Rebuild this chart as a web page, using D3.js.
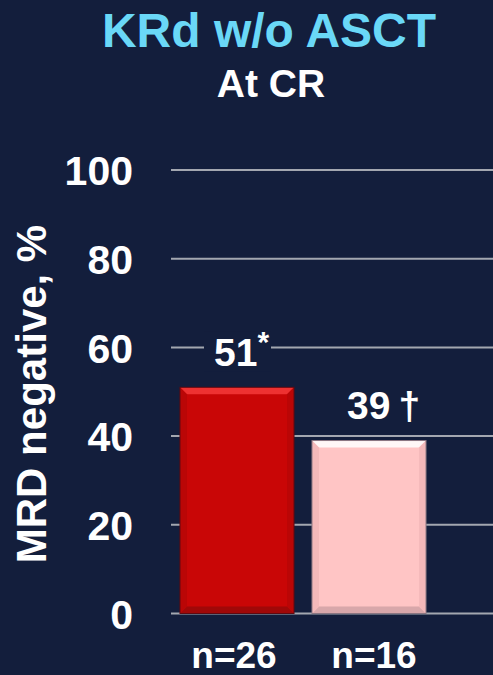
<!DOCTYPE html>
<html>
<head>
<meta charset="utf-8">
<script src="https://cdn.jsdelivr.net/npm/d3@7"></script>
<style>
  html, body { margin: 0; padding: 0; background: #131e3c; }
  svg { display: block; }
  text { font-family: "Liberation Sans", Arial, sans-serif; font-weight: bold; }
</style>
</head>
<body>
<svg id="chart" width="493" height="675"></svg>
<script>
// Chart data
const categories = ["n=26", "n=16"];
const values = [51, 39];
const valueMarks = ["*", "†"];
const yTicks = [0, 20, 40, 60, 80, 100];
const title = "KRd w/o ASCT";
const subtitle = "At CR";
const yLabel = "MRD negative, %";

const W = 493, H = 675;
const svg = d3.select("#chart");

svg.append("rect").attr("width", W).attr("height", H).attr("fill", "#131e3c");

const y = d3.scaleLinear().domain([0, 100]).range([613.5, 170]);
const x = d3.scaleBand().domain(categories).range([171, 435])
  .paddingInner(0.136).paddingOuter(0.068);

// Titles
svg.append("text").attr("x", 269).attr("y", 47).attr("text-anchor", "middle")
  .attr("font-size", 48).attr("fill", "#6ad8f7").text(title);
svg.append("text").attr("x", 271).attr("y", 97).attr("text-anchor", "middle")
  .attr("font-size", 39).attr("fill", "#ffffff").text(subtitle);

// Gridlines
svg.append("g").selectAll("line").data(yTicks).join("line")
  .attr("x1", 171).attr("x2", W)
  .attr("y1", d => y(d)).attr("y2", d => y(d))
  .attr("stroke", "#a3a7b0").attr("stroke-width", 2);

// Y axis tick labels
const yAxis = d3.axisLeft(y).tickValues(yTicks).tickSize(0).tickPadding(0);
const gy = svg.append("g").attr("transform", "translate(133,0)").call(yAxis);
gy.select(".domain").remove();
gy.selectAll("text").attr("font-size", 41).attr("fill", "#ffffff")
  .attr("font-family", "\"Liberation Sans\", Arial, sans-serif").attr("font-weight", "bold")
  .attr("dy", "0.36em");

// Y axis title
svg.append("text").attr("transform", "translate(46,394) rotate(-90)")
  .attr("text-anchor", "middle").attr("font-size", 42).attr("fill", "#ffffff").text(yLabel);

// Bevelled bars
const palettes = [
  { base: "#c90606", top: "#f53a3a", bottom: "#8f0a0a", side: "#b30707", edge: "#5e0a12" },
  { base: "#ffc5c5", top: "#ffffff", bottom: "#c79a9e", side: "#f0b3b5", edge: "#8a7682" }
];
const bev = 7;
categories.forEach((c, i) => {
  const x0 = x(c), x1 = x0 + x.bandwidth();
  const y0 = y(values[i]), y1 = y(0);
  const p = palettes[i];
  const g = svg.append("g");
  g.append("rect").attr("x", x0).attr("y", y0).attr("width", x1 - x0).attr("height", y1 - y0)
    .attr("fill", p.base);
  const poly = (pts, fill, op) => g.append("polygon")
    .attr("points", pts.map(q => q.join(",")).join(" ")).attr("fill", fill).attr("opacity", op);
  poly([[x0, y0], [x1, y0], [x1 - bev, y0 + bev], [x0 + bev, y0 + bev]], p.top, 0.85);
  poly([[x0, y1], [x1, y1], [x1 - bev, y1 - bev], [x0 + bev, y1 - bev]], p.bottom, 0.7);
  poly([[x0, y0], [x0 + bev, y0 + bev], [x0 + bev, y1 - bev], [x0, y1]], p.side, 0.7);
  poly([[x1, y0], [x1 - bev, y0 + bev], [x1 - bev, y1 - bev], [x1, y1]], p.side, 0.7);
  g.append("rect").attr("x", x0).attr("y", y0).attr("width", x1 - x0).attr("height", y1 - y0)
    .attr("fill", "none").attr("stroke", p.edge).attr("stroke-width", 1);
});

// Value labels
const lab0 = svg.append("g");
const cx0 = x(categories[0]) + x.bandwidth() / 2;
lab0.append("rect").attr("x", cx0 - 33).attr("y", y(values[0]) - 56).attr("width", 67).attr("height", 40)
  .attr("fill", "#131e3c");
const t0 = lab0.append("text").attr("x", cx0 - 23).attr("y", y(values[0]) - 21)
  .attr("font-size", 39).attr("fill", "#ffffff");
t0.append("tspan").text(values[0]);
t0.append("tspan").attr("font-size", 30).attr("dy", -14).text(valueMarks[0]);

const cx1 = x(categories[1]) + x.bandwidth() / 2;
const t1 = svg.append("text").attr("x", cx1 - 22).attr("y", y(values[1]) - 22)
  .attr("font-size", 39).attr("fill", "#ffffff");
t1.append("tspan").text(values[1]);
t1.append("tspan").attr("dx", 8).text(valueMarks[1]);

// Category labels
svg.append("g").selectAll("text").data(categories).join("text")
  .attr("x", (d, i) => x(d) + x.bandwidth() / 2 + (i === 0 ? -3 : 5))
  .attr("y", 668).attr("text-anchor", "middle")
  .attr("font-size", 37).attr("fill", "#ffffff").text(d => d);
</script>
</body>
</html>
